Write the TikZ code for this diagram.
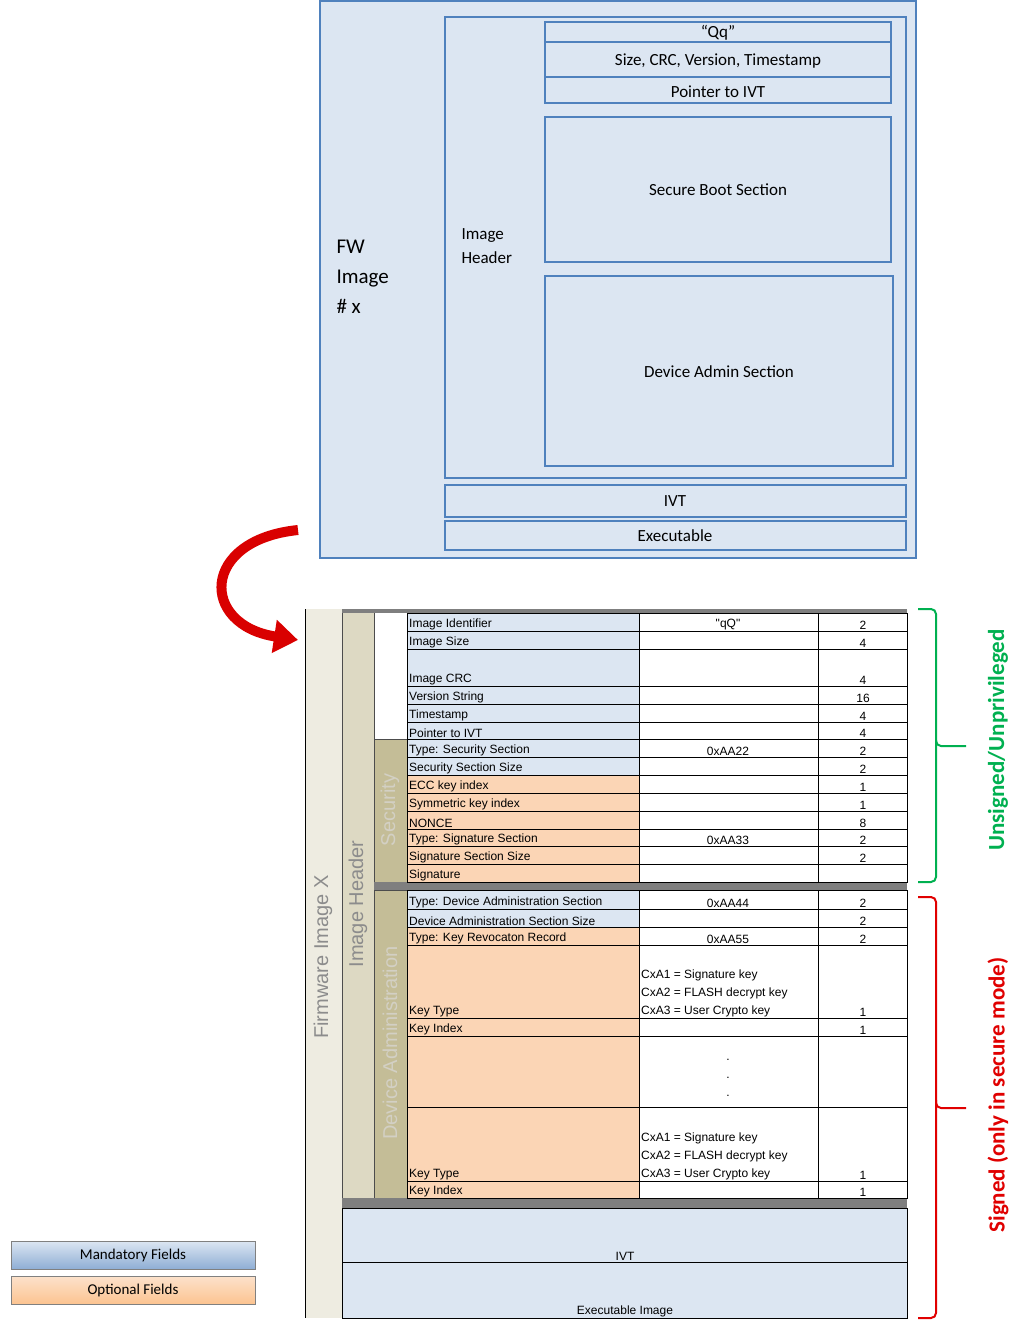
\documentclass[tikz,border=0pt]{standalone}
\usepackage{fontspec}
\setmainfont{Carlito}
\newfontfamily\arialf{Liberation Sans}
\usetikzlibrary{arrows.meta}
\definecolor{mand}{HTML}{DCE6F2}
\definecolor{opt}{HTML}{FBD5B5}
\definecolor{bblue}{HTML}{4F81BD}
\definecolor{fwcol}{HTML}{EEECE1}
\definecolor{hdcol}{HTML}{DDD9C3}
\definecolor{seccol}{HTML}{C4BD97}
\definecolor{gbar}{HTML}{7F7F7F}
\definecolor{vtxt}{HTML}{8C8C8C}
\definecolor{gtxt}{HTML}{00B050}
\definecolor{rtxt}{HTML}{E00000}
\tikzset{
 topbox/.style={draw=bblue,line width=1.6pt,fill=mand},
 toptxt/.style={font=\fontsize{17}{20}\selectfont},
 cellt/.style={font=\arialf\fontsize{12}{13.5}\selectfont,inner sep=1pt},
 vtext/.style={rotate=90,font=\arialf\fontsize{20}{22}\selectfont,text=vtxt},
 brace/.style={line width=2pt,rounded corners=5pt},
 legbox/.style={draw=gray,line width=0.8pt,font=\fontsize{15}{17}\selectfont,minimum width=244pt,minimum height=28pt,inner sep=0pt},
}
\begin{document}
\begin{tikzpicture}[x=1pt,y=-1pt]
\useasboundingbox (0,0) rectangle (1032,1322);
% ---------- top diagram
\draw[topbox] (320,1) rectangle (916,558);
\draw[topbox] (445,17) rectangle (906,478);
\node[toptxt,anchor=north west,align=left,font=\fontsize{21}{30}\selectfont] (fw) at (333,236) {FW\\Image\\\# x};
\node[toptxt,anchor=north west,align=left,font=\fontsize{17}{24}\selectfont] (ih) at (458,225) {Image\\Header};
\draw[topbox] (545,22) rectangle (891,42);
\node[toptxt] (qq) at (718,33) {“Qq”};
\draw[topbox] (545,42) rectangle (891,77);
\node[toptxt] (sz) at (718,61) {Size, CRC, Version, Timestamp};
\draw[topbox] (545,77) rectangle (891,103);
\node[toptxt] (pivt) at (718,92) {Pointer to IVT};
\draw[topbox] (545,117) rectangle (891,262);
\node[toptxt] (sbs) at (718,190) {Secure Boot Section};
\draw[topbox] (545,276) rectangle (893,466);
\node[toptxt] (das) at (719,372) {Device Admin Section};
\draw[topbox] (445,485) rectangle (906,517);
\node[toptxt] (tivt) at (675,501) {IVT};
\draw[topbox] (445,521) rectangle (906,550);
\node[toptxt] (texe) at (675,536) {Executable};
% red arrow
\coordinate (as) at (298,530);
\coordinate (ae) at (298,640);
\draw[red!85!black,line width=10pt,-{Triangle[length=24pt,width=32pt]}] (as) .. controls (200,540) and (200,625) .. (ae);
% ---------- table
\fill[fwcol] (305,609) rectangle (342,1318);
\draw[line width=1pt] (305,609) -- (305,1318);
\fill[hdcol] (342,613) rectangle (374,1198);
\fill[seccol] (374,739) rectangle (407,882);
\fill[seccol] (374,890) rectangle (407,1198);
\draw[black!70,line width=0.6pt] (342,613) -- (342,1198) (374,739) rectangle (407,882) (374,890) rectangle (407,1198) (374,613)--(374,1198);
\fill[gbar] (342,609) rectangle (907,613);
\fill[gbar] (374,882) rectangle (907,890);
\fill[gbar] (342,1198) rectangle (907,1208);
\node[vtext] (fwx) at (323,957) {Firmware Image X};
\node[vtext] (hdr) at (358,904) {Image Header};
\node[vtext,text=white!60!seccol!80!gray] (sec) at (390,810) {Security};
\node[vtext,text=white!60!seccol!80!gray] (dadm) at (390,1043) {Device Administration};
\foreach \a/\b/\f/\l/\v/\s [count=\i] in {
 613/631/mand/Image Identifier/"qQ"/2,
 631/649/mand/Image Size//4,
 649/686/mand/Image CRC//4,
 686/704/mand/Version String//16,
 704/722/mand/Timestamp//4,
 722/739/mand/Pointer to IVT//4,
 739/757/mand/Type: Security Section/0xAA22/2,
 757/775/mand/Security Section Size//2,
 775/793/opt/ECC key index//1,
 793/811/opt/Symmetric key index//1,
 811/829/opt/NONCE//8,
 829/846/opt/Type: Signature Section/0xAA33/2,
 846/864/opt/Signature Section Size//2,
 864/882/opt/Signature//,
 890/909/mand/Type: Device Administration Section/0xAA44/2,
 909/927/mand/Device Administration Section Size//2,
 927/945/opt/Type: Key Revocaton Record/0xAA55/2,
 945/1018/opt/Key Type//1,
 1018/1036/opt/Key Index//1,
 1036/1107/opt///,
 1107/1181/opt/Key Type//1,
 1181/1198/opt/Key Index//1}{
 \fill[\f] (407,\a) rectangle (639,\b);
 \draw[line width=0.8pt] (407,\a) rectangle (639,\b) (639,\a) rectangle (818,\b) (818,\a) rectangle (907,\b);
 \begin{scope}
 \clip (407,\a) rectangle (639,\b);
 \node[cellt,anchor=south west] (l\i) at (408,\b) {\l};
 \end{scope}
 \node[cellt,anchor=south] (v\i) at (728,\b) {\v};
 \node[cellt,anchor=south] (s\i) at (863,\b) {\s};
}
\node[cellt,anchor=south west,align=left,font=\arialf\fontsize{12}{18}\selectfont] (kt1) at (640,1018) {CxA1 = Signature key\\CxA2 = FLASH decrypt key\\CxA3 = User Crypto key};
\node[cellt,anchor=south west,align=left,font=\arialf\fontsize{12}{18}\selectfont] (kt2) at (640,1181) {CxA1 = Signature key\\CxA2 = FLASH decrypt key\\CxA3 = User Crypto key};
\node[cellt,align=center,font=\arialf\fontsize{12}{18}\selectfont] (dots) at (728,1078) {.\\.\\.};
\draw[fill=mand,line width=0.8pt] (342,1208) rectangle (907,1262);
\draw[fill=mand,line width=0.8pt] (342,1262) rectangle (907,1318);
\node[cellt,anchor=south] (tivt2) at (625,1262) {IVT};
\node[cellt,anchor=south] (texe2) at (625,1318) {Executable Image};
% braces
\draw[brace,gtxt] (918,609) -| (936,746) -- (966,746);
\draw[brace,gtxt] (936,740) |- (918,882);
\draw[brace,rtxt] (918,897) -| (936,1108) -- (966,1108);
\draw[brace,rtxt] (936,1100) |- (918,1318);
\node[rotate=90,text=gtxt,font=\bfseries\fontsize{23}{26}\selectfont] (uns) at (998,740) {Unsigned/Unprivileged};
\node[rotate=90,text=rtxt,font=\bfseries\fontsize{23}{26}\selectfont] (sig) at (998,1095) {Signed (only in secure mode)};
% legend
\node[legbox,top color=mand,bottom color=bblue!55!mand] (mf) at (133,1255) {Mandatory Fields};
\node[legbox,top color=opt!70!white,bottom color=opt!80!orange] (of) at (133,1290) {Optional Fields};
\end{tikzpicture}
\end{document}
